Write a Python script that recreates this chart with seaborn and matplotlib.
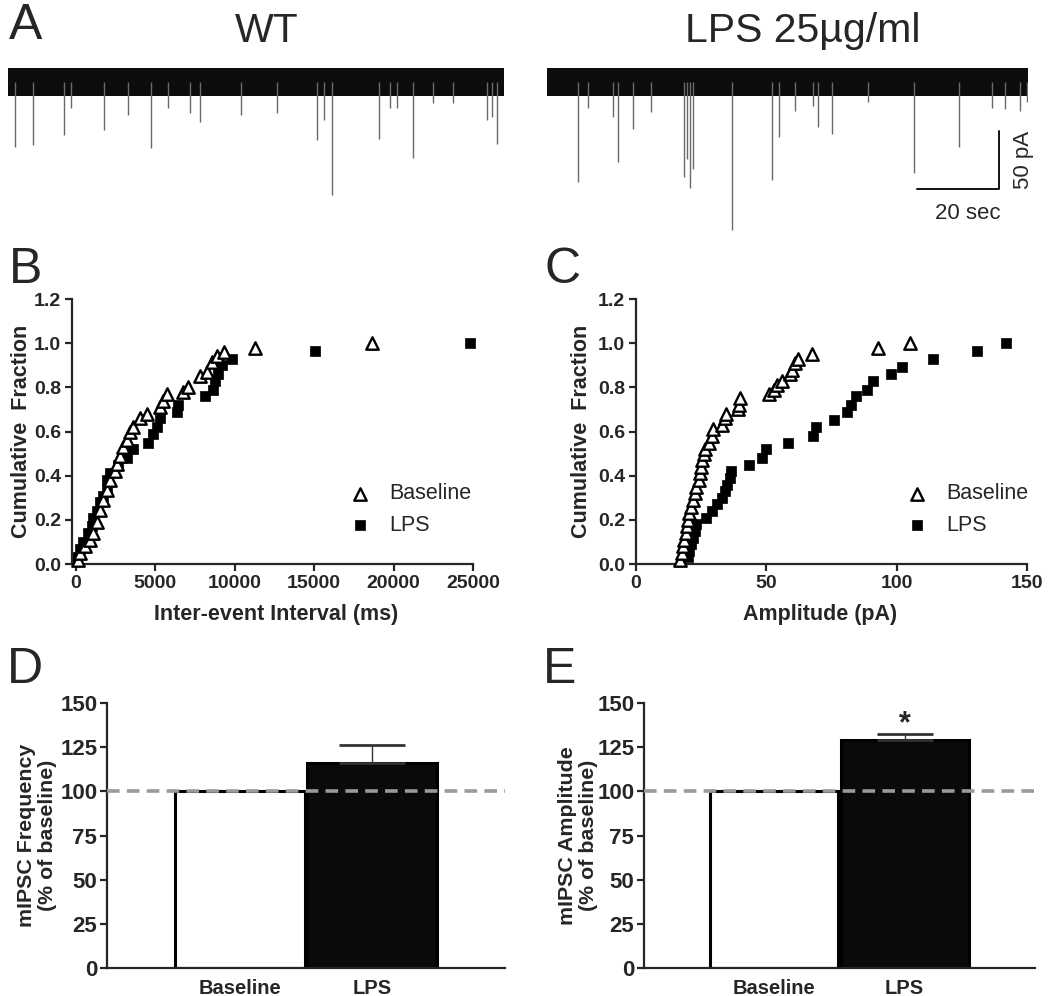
import numpy as np
import matplotlib
matplotlib.use('Agg')
import matplotlib.pyplot as plt
import seaborn as sns

# --- panel A : spontaneous events (time in s, amplitude in pA below baseline)
wt_times = [1.7, 6.1, 13.7, 15.4, 23.4, 29.3, 34.9, 39.0, 44.4, 46.8, 56.8, 65.6,
            75.4, 77.1, 79.0, 90.5, 93.2, 94.9, 98.8, 103.7, 108.5, 116.8, 118.0, 119.3]
wt_amps = [56, 54, 46, 22, 41, 28, 57, 22, 27, 34, 28, 27,
           50, 33, 97, 49, 22, 22, 65, 18, 18, 33, 30, 53]
lps_times = [7.6, 10.0, 16.1, 17.3, 21.0, 25.4, 33.4, 34.1, 34.9, 35.6, 45.1, 54.9,
             56.6, 60.5, 64.9, 66.1, 69.5, 78.3, 89.5, 100.5, 108.5, 111.7, 115.4, 117.1]
lps_amps = [86, 22, 30, 69, 40, 26, 82, 66, 91, 75, 127, 84,
            47, 25, 21, 39, 45, 17, 78, 56, 22, 23, 25, 17]
wt_duration = 121
lps_duration = 117.3
noise_band = 12  # pA, half width of baseline noise

# --- panel B : cumulative inter-event interval (ms)
iei_base = [100, 250, 570, 880, 1090, 1300, 1510, 1720, 1930, 2140, 2460, 2560, 2770,
            2980, 3190, 3400, 3610, 4030, 4450, 5290, 5500, 5710, 6760, 7070, 7810,
            8230, 8545, 8860, 9320, 11270, 18620]
iei_base_frac = [0.02, 0.05, 0.08, 0.11, 0.14, 0.19, 0.245, 0.29, 0.335, 0.38, 0.42,
                 0.455, 0.49, 0.53, 0.56, 0.60, 0.62, 0.66, 0.68, 0.71, 0.74, 0.77,
                 0.78, 0.80, 0.85, 0.87, 0.915, 0.94, 0.96, 0.977, 1.0]
iei_lps = [0, 250, 460, 780, 990, 1090, 1300, 1510, 1720, 1930, 1930, 2140, 2660, 3200,
           3610, 4550, 4870, 5080, 5290, 6340, 6450, 8120, 8650, 8750, 8960, 9170, 9800,
           15050, 24800]
iei_lps_frac = [0.03, 0.07, 0.10, 0.14, 0.17, 0.21, 0.24, 0.28, 0.31, 0.34, 0.38, 0.41,
                0.45, 0.48, 0.52, 0.55, 0.59, 0.62, 0.66, 0.69, 0.72, 0.76, 0.79, 0.83,
                0.86, 0.90, 0.93, 0.965, 1.0]

# --- panel C : cumulative amplitude (pA)
amp_base = [17, 17.5, 18, 18.5, 19, 19.5, 20, 20.5, 21, 22, 22.5, 23, 24, 24.5, 25, 25.5,
            26, 26.5, 28, 29, 29.5, 33, 34, 34.5, 39, 39.5, 40, 51, 53, 54, 56, 59, 60,
            61, 62, 67.5, 93, 105]
amp_base_frac = [0.02, 0.05, 0.08, 0.11, 0.14, 0.17, 0.20, 0.23, 0.26, 0.29, 0.32, 0.35,
                 0.38, 0.41, 0.44, 0.47, 0.50, 0.52, 0.55, 0.58, 0.61, 0.63, 0.66, 0.68,
                 0.70, 0.72, 0.75, 0.77, 0.79, 0.81, 0.83, 0.86, 0.88, 0.91, 0.93, 0.95,
                 0.98, 1.0]
amp_lps = [20, 20.5, 21, 22, 22.5, 23, 27, 29, 31, 33, 34, 35, 36, 36.5, 43.5, 48.5, 50,
           58.5, 68, 69, 76, 81, 82.5, 84.5, 88.5, 91, 98, 102, 114, 131, 142]
amp_lps_frac = [0.03, 0.06, 0.09, 0.12, 0.15, 0.18, 0.21, 0.24, 0.27, 0.30, 0.33, 0.36,
                0.39, 0.42, 0.45, 0.48, 0.52, 0.55, 0.58, 0.62, 0.65, 0.69, 0.72, 0.76,
                0.79, 0.83, 0.86, 0.89, 0.93, 0.965, 1.0]

# --- panels D / E : % of baseline
bar_labels = ['Baseline', 'LPS']
freq_means = [100, 116]
freq_sem = [0, 10]
ampl_means = [100, 129]
ampl_sem = [0, 3.5]

sns.set_style('ticks')
plt.rcParams['font.family'] = ['Liberation Sans', 'DejaVu Sans']
plt.rcParams['font.weight'] = 'bold'
plt.rcParams['axes.labelweight'] = 'bold'
plt.rcParams['axes.linewidth'] = 1.6
plt.rcParams['xtick.major.width'] = 1.6
plt.rcParams['ytick.major.width'] = 1.6

fig = plt.figure(figsize=(10.5, 9.96), dpi=100)
W, H = 1050, 996


def px_axes(x0, y0, x1, y1):
    return fig.add_axes([x0 / W, 1 - y1 / H, (x1 - x0) / W, (y1 - y0) / H])


# ---------------- A: traces
def trace(ax, times, amps, duration):
    ax.vlines(times, 0, -np.array(amps), color='#6a6a6a', lw=1.0)
    ax.fill_between([0, duration], -noise_band, noise_band, color='#0c0c0c', lw=0)
    ax.set_xlim(0, duration)
    ax.set_ylim(-136, 27.6)
    ax.axis('off')


ax_wt = px_axes(8, 50, 504, 240)
trace(ax_wt, wt_times, wt_amps, wt_duration)
ax_lps = px_axes(547, 50, 1028, 240)
trace(ax_lps, lps_times, lps_amps, lps_duration)
# scale bars
sb_t, sb_y = 90.2, -92
ax_lps.plot([sb_t, sb_t + 20, sb_t + 20], [sb_y, sb_y, sb_y + 50], color='#111', lw=1.4,
            clip_on=False)
ax_lps.text(sb_t + 12.5, -113, '20 sec', fontsize=16, fontweight='normal', ha='center',
            va='center')
ax_lps.text(116.1, -67, '50 pA', fontsize=16, fontweight='normal', rotation=90,
            ha='center', va='center', clip_on=False)

fig.text(267 / W, 1 - 42 / H, 'WT', fontsize=29.5, fontweight='normal', ha='center',
         va='baseline')
fig.text(803 / W, 1 - 42 / H, 'LPS 25µg/ml', fontsize=29.5, fontweight='normal',
         ha='center', va='baseline')


# ---------------- B / C: cumulative plots
def cumplot(ax, xb, yb, xl, yl, leg_x):
    sns.scatterplot(x=xb, y=yb, marker='^', s=80, facecolor='white', edgecolor='black',
                    linewidth=1.7, label='Baseline', ax=ax, clip_on=False, zorder=3)
    sns.scatterplot(x=xl, y=yl, marker='s', s=58, color='black', edgecolor='black',
                    linewidth=0.5, label='LPS', ax=ax, clip_on=False, zorder=2)
    ax.set_ylim(0, 1.2)
    ax.set_yticks(np.arange(0, 1.21, 0.2))
    ax.set_yticklabels([f'{v:.1f}' for v in np.arange(0, 1.21, 0.2)])
    ax.set_ylabel('Cumulative  Fraction', fontsize=15.5)
    ax.tick_params(labelsize=14, length=5, direction='out', pad=3)
    sns.despine(ax=ax)
    ax.legend(loc='center left', bbox_to_anchor=(leg_x, 0.205), frameon=False,
              handlelength=1.2, handletextpad=0.75, labelspacing=0.5,
              prop={'size': 15.5, 'weight': 'normal'})


ax_b = px_axes(72, 299, 473, 564)
cumplot(ax_b, iei_base, iei_base_frac, iei_lps, iei_lps_frac, 0.638)
ax_b.set_xlim(-250, 25000)
ax_b.set_xticks([0, 5000, 10000, 15000, 20000, 25000])
ax_b.set_xlabel('Inter-event Interval (ms)', fontsize=15.5)
ax_b.yaxis.set_label_coords(-0.10, 0.5)
ax_b.xaxis.set_label_coords(0.51, -0.15)

ax_c = px_axes(636, 299, 1027, 564)
cumplot(ax_c, amp_base, amp_base_frac, amp_lps, amp_lps_frac, 0.636)
ax_c.set_xlim(0, 150)
ax_c.set_xticks([0, 50, 100, 150])
ax_c.set_xlabel('Amplitude (pA)', fontsize=15.5)
ax_c.yaxis.set_label_coords(-0.113, 0.5)
ax_c.xaxis.set_label_coords(0.47, -0.15)


# ---------------- D / E: bars
def barpanel(ax, means, sem, ylabel, capsize):
    sns.barplot(x=bar_labels, y=means, hue=bar_labels, palette=['white', '#0a0a0a'],
                edgecolor='black', linewidth=2.2, width=0.98, legend=False,
                errorbar=None, ax=ax, zorder=2)
    ax.errorbar([1], [means[1]], yerr=[[0], [sem[1]]], fmt='none', ecolor='#333',
                elinewidth=1.0, capsize=capsize, capthick=2, zorder=3)
    ax.axhline(100, color='#9a9a9a', lw=2.6, ls=(0, (3.5, 2)), zorder=4)
    ax.set_xlim(-1, 2)
    ax.set_ylim(0, 150)
    ax.set_yticks([0, 25, 50, 75, 100, 125, 150])
    ax.set_ylabel(ylabel, fontsize=15.4, linespacing=1.15)
    ax.tick_params(axis='y', labelsize=16, length=5, direction='out', pad=2)
    ax.tick_params(axis='x', labelsize=14.5, length=0, pad=8)
    sns.despine(ax=ax)


ax_d = px_axes(107, 703, 505, 968)
barpanel(ax_d, freq_means, freq_sem, 'mIPSC Frequency\n(% of baseline)', 24)
ax_d.yaxis.set_label_coords(-0.125, 0.5)

ax_e = px_axes(644, 703, 1035, 968)
barpanel(ax_e, ampl_means, ampl_sem, 'mIPSC Amplitude\n(% of baseline)', 20)
ax_e.yaxis.set_label_coords(-0.118, 0.5)
ax_e.text(1, 138, '*', fontsize=22, ha='center', va='center')

# panel letters
for letter, x, y in [('A', 26, 39), ('B', 26, 283), ('C', 563, 283), ('D', 25, 683),
                     ('E', 560, 683)]:
    fig.text(x / W, 1 - y / H, letter, fontsize=36, fontweight='normal', ha='center',
             va='baseline')

fig.savefig('out.png', dpi=100)
